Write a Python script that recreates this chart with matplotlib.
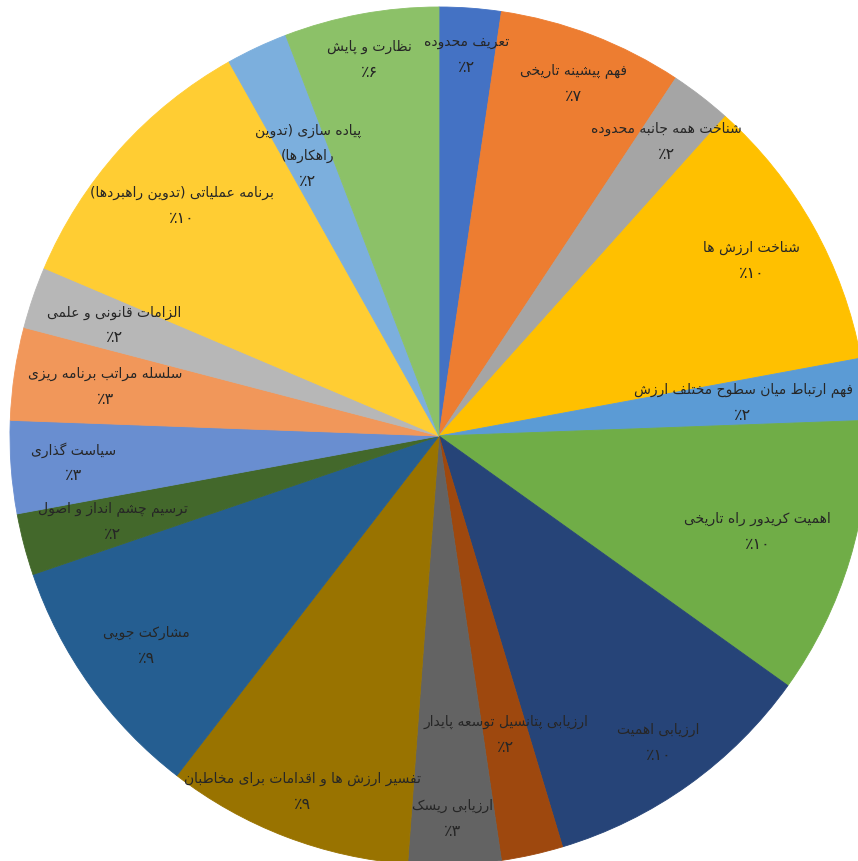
import matplotlib
matplotlib.use("Agg")
from matplotlib import pyplot as plt
import numpy as np

plt.rcParams['font.family'] = ['DejaVu Sans']

# slices, clockwise from 12 o'clock
labels = [
    "تعریف محدوده",
    "فهم پیشینه تاریخی",
    "شناخت همه جانبه محدوده",
    "شناخت ارزش ها",
    "فهم ارتباط میان سطوح مختلف ارزش",
    "اهمیت کریدور راه تاریخی",
    "ارزیابی اهمیت",
    "ارزیابی پتانسیل توسعه پایدار",
    "ارزیابی ریسک",
    "تفسیر ارزش ها و اقدامات برای مخاطبان",
    "مشارکت جویی",
    "ترسیم چشم انداز و اصول",
    "سیاست گذاری",
    "سلسله مراتب برنامه ریزی",
    "الزامات قانونی و علمی",
    "برنامه عملیاتی (تدوین راهبردها)",
    "پیاده سازی (تدوین\nراهکارها)",
    "نظارت و پایش",
]
values = [2, 6, 2, 9, 2, 9, 9, 2, 3, 8, 8, 2, 3, 3, 2, 9, 2, 5]
colors = ['#4472C4', '#ED7D31', '#A5A5A5', '#FFC000', '#5B9BD5', '#70AD47',
          '#264478', '#9E480E', '#636363', '#997300', '#255E91', '#43682B',
          '#698ED0', '#F1975A', '#B7B7B7', '#FFCD33', '#7CAFDD', '#8CC168']

# radial position of each data label (fraction of the radius)
label_r = [0.89, 0.88, 0.867, 0.835, 0.713, 0.776, 0.879, 0.713, 0.893,
           0.888, 0.839, 0.786, 0.855, 0.786, 0.80, 0.804, 0.72, 0.893]

# arabic / persian presentation forms: isolated, final, initial, medial
FORMS = {
    'ا': ('\uFE8D', '\uFE8E', None, None),
    'آ': ('\uFE81', '\uFE82', None, None),
    'ب': ('\uFE8F', '\uFE90', '\uFE91', '\uFE92'),
    'پ': ('\uFB56', '\uFB57', '\uFB58', '\uFB59'),
    'ت': ('\uFE95', '\uFE96', '\uFE97', '\uFE98'),
    'ث': ('\uFE99', '\uFE9A', '\uFE9B', '\uFE9C'),
    'ج': ('\uFE9D', '\uFE9E', '\uFE9F', '\uFEA0'),
    'چ': ('\uFB7A', '\uFB7B', '\uFB7C', '\uFB7D'),
    'ح': ('\uFEA1', '\uFEA2', '\uFEA3', '\uFEA4'),
    'خ': ('\uFEA5', '\uFEA6', '\uFEA7', '\uFEA8'),
    'د': ('\uFEA9', '\uFEAA', None, None),
    'ذ': ('\uFEAB', '\uFEAC', None, None),
    'ر': ('\uFEAD', '\uFEAE', None, None),
    'ز': ('\uFEAF', '\uFEB0', None, None),
    'ژ': ('\uFB8A', '\uFB8B', None, None),
    'س': ('\uFEB1', '\uFEB2', '\uFEB3', '\uFEB4'),
    'ش': ('\uFEB5', '\uFEB6', '\uFEB7', '\uFEB8'),
    'ص': ('\uFEB9', '\uFEBA', '\uFEBB', '\uFEBC'),
    'ض': ('\uFEBD', '\uFEBE', '\uFEBF', '\uFEC0'),
    'ط': ('\uFEC1', '\uFEC2', '\uFEC3', '\uFEC4'),
    'ظ': ('\uFEC5', '\uFEC6', '\uFEC7', '\uFEC8'),
    'ع': ('\uFEC9', '\uFECA', '\uFECB', '\uFECC'),
    'غ': ('\uFECD', '\uFECE', '\uFECF', '\uFED0'),
    'ف': ('\uFED1', '\uFED2', '\uFED3', '\uFED4'),
    'ق': ('\uFED5', '\uFED6', '\uFED7', '\uFED8'),
    'ک': ('\uFB8E', '\uFB8F', '\uFB90', '\uFB91'),
    'گ': ('\uFB92', '\uFB93', '\uFB94', '\uFB95'),
    'ل': ('\uFEDD', '\uFEDE', '\uFEDF', '\uFEE0'),
    'م': ('\uFEE1', '\uFEE2', '\uFEE3', '\uFEE4'),
    'ن': ('\uFEE5', '\uFEE6', '\uFEE7', '\uFEE8'),
    'و': ('\uFEED', '\uFEEE', None, None),
    'ه': ('\uFEE9', '\uFEEA', '\uFEEB', '\uFEEC'),
    'ی': ('\uFBFC', '\uFBFD', '\uFBFE', '\uFBFF'),
}


def shape_line(text):
    # join letters and flip to visual (left to right) order
    out = []
    i = 0
    while i < len(text):
        c = text[i]
        if c not in FORMS:
            out.append(c)
            i += 1
            continue
        prev = text[i - 1] if i > 0 else ''
        join_prev = prev in FORMS and FORMS[prev][2] is not None
        if c == 'ل' and i + 1 < len(text) and text[i + 1] == 'ا':
            out.append('\uFEFC' if join_prev else '\uFEFB')
            i += 2
            continue
        nxt = text[i + 1] if i + 1 < len(text) else ''
        join_next = FORMS[c][2] is not None and nxt in FORMS
        f = FORMS[c]
        if join_prev and join_next:
            out.append(f[3])
        elif join_prev:
            out.append(f[1])
        elif join_next:
            out.append(f[2])
        else:
            out.append(f[0])
        i += 1
    vis = ''.join(reversed(out))
    return vis.translate(str.maketrans('()', ')('))


def fa_digits(n):
    return str(n).translate(str.maketrans('0123456789', '۰۱۲۳۴۵۶۷۸۹'))


fig = plt.figure(figsize=(8.58, 8.61), dpi=100)
ax = fig.add_axes([0, 0, 1, 1])

wedges, _ = ax.pie(values, colors=colors, startangle=90, counterclock=False,
                   radius=1, wedgeprops={'linewidth': 0})
for w in wedges:
    w.set_edgecolor(w.get_facecolor())                                          # hide seams between slices
    w.set_linewidth(0.6)

total = sum(values)
for w, lab, v, r in zip(wedges, labels, values, label_r):
    mid = np.deg2rad((w.theta1 + w.theta2) / 2)
    x, y = r * np.cos(mid), r * np.sin(mid)
    lines = [shape_line(t) for t in lab.split('\n')]
    lines.append('٪' + fa_digits(round(100 * v / total)))
    n = len(lines)
    for k, line in enumerate(lines):
        dy = -(k - (n - 1) / 2) * 25.5 * 0.72                                   # 25.5 px between lines
        is_pct = k == n - 1
        ax.annotate(line, (x, y), xytext=(0, dy), textcoords='offset points',
                    ha='center', va='center', color='#262626',
                    fontsize=11.5 if is_pct else 10)

ax.set_xlim(-1.0233, 0.9767)
ax.set_ylim(-0.9907, 1.0163)
ax.set_aspect('auto')
ax.axis('off')

plt.savefig("out.png", dpi=100)
